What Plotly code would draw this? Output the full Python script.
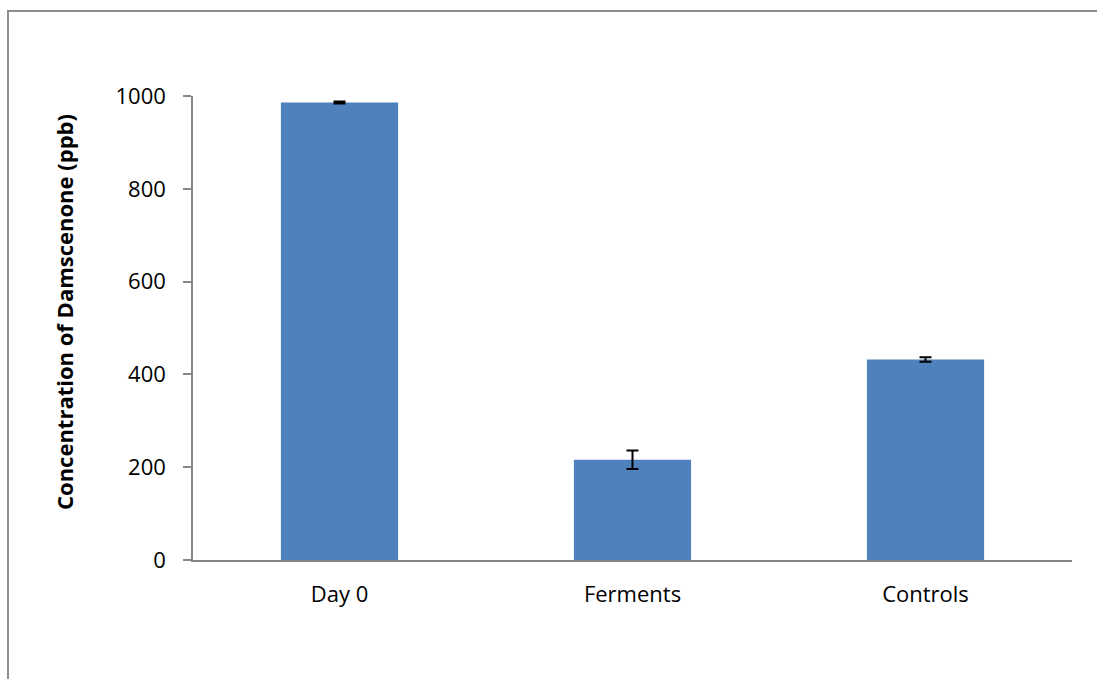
import plotly.graph_objects as go

# Damascenone concentration by sample group
categories = ["Day 0", "Ferments", "Controls"]
concentration_ppb = [986, 216, 432]
error_ppb = [2, 20, 5]

y_ticks = [0, 200, 400, 600, 800, 1000]

BAR_BLUE = "#4F81BD"
AXIS_GREY = "#868686"
FONT = "Open Sans, Liberation Sans, sans-serif"

fig = go.Figure(
    go.Bar(
        x=categories,
        y=concentration_ppb,
        marker=dict(color=BAR_BLUE, line=dict(width=0)),
        error_y=dict(type="data", array=error_ppb, visible=True,
                     color="black", thickness=2, width=6),
        width=0.4,
    )
)

# plot area: x 193..1072 px, y 96..560 px
L, R, T, B = 193, 25, 96, 119
W, H = 1097, 679
pw, ph = W - L - R, H - T - B

def px_to_paper_x(px):
    return (px - L) / pw

def px_to_paper_y(py):
    return 1 - (py - T) / ph

fig.update_layout(
    width=W,
    height=H,
    margin=dict(l=L, r=R, t=T, b=B, pad=0),
    paper_bgcolor="white",
    plot_bgcolor="white",
    showlegend=False,
    font=dict(family=FONT, size=22, color="black"),
    xaxis=dict(
        showline=True, linecolor=AXIS_GREY, linewidth=1.5,
        ticks="", showgrid=False, zeroline=False,
        ticklabelstandoff=14,
        tickfont=dict(size=22, color="black"),
    ),
    yaxis=dict(
        range=[0, 1000],
        tickvals=y_ticks,
        showline=True, linecolor=AXIS_GREY, linewidth=1.5,
        ticks="outside", ticklen=8, tickwidth=1.5, tickcolor=AXIS_GREY,
        ticklabelstandoff=13,
        showgrid=False, zeroline=False,
        tickfont=dict(size=22, color="black"),
    ),
    annotations=[
        dict(
            text="<b>Concentration of Damscenone (ppb)</b>",
            xref="paper", yref="paper",
            x=px_to_paper_x(64), y=px_to_paper_y(312),
            xanchor="center", yanchor="middle",
            textangle=-90, showarrow=False,
            font=dict(family=FONT, size=22, color="black"),
        )
    ],
    shapes=[
        dict(
            type="rect", xref="paper", yref="paper",
            x0=px_to_paper_x(8), x1=px_to_paper_x(1110),
            y0=px_to_paper_y(700), y1=px_to_paper_y(11),
            line=dict(color="#8C8C8C", width=2),
            fillcolor="rgba(0,0,0,0)", layer="below",
        )
    ],
)

fig.write_html("out.html")
